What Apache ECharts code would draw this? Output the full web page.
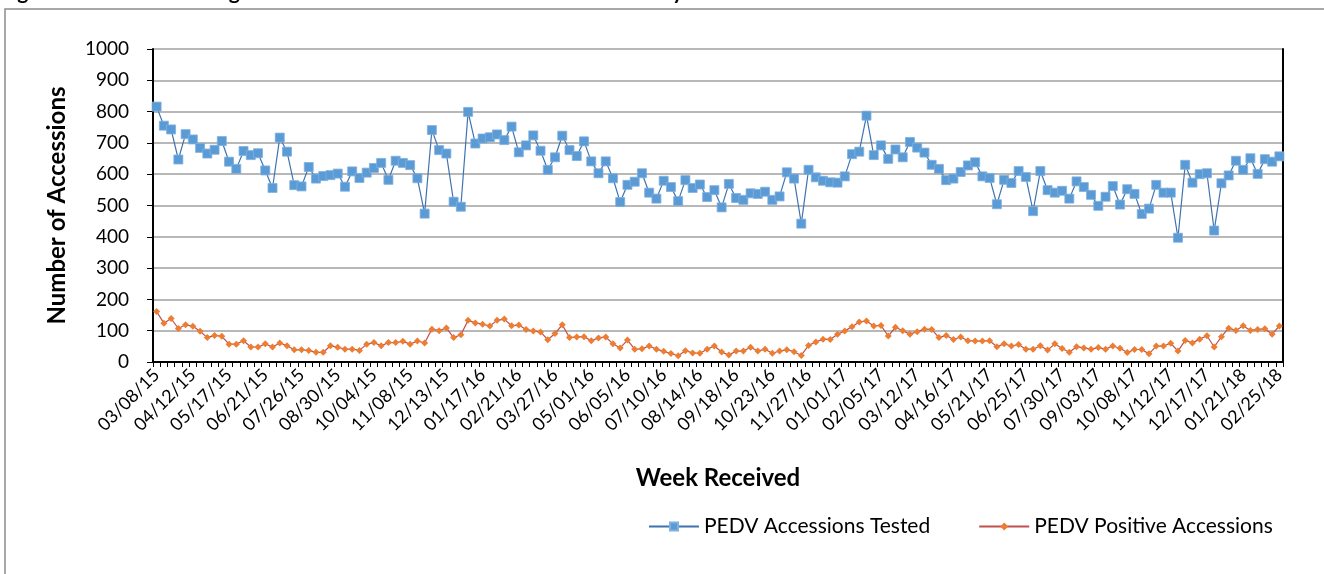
<!DOCTYPE html>
<html>
<head>
<meta charset="utf-8">
<script src="https://cdn.jsdelivr.net/npm/echarts@6/dist/echarts.min.js"></script>
<style>
html,body{margin:0;padding:0;background:#fff;}
#chart{width:1324px;height:574px;}
</style>
</head>
<body>
<div id="chart"></div>
<script>
// Weekly categories: first week received and number of weeks
const firstWeek = [2015, 3, 8];
const weekCount = 156;

const seriesNames = ['PEDV Accessions Tested', 'PEDV Positive Accessions'];

const accessionsTested = [
 816,755,743,647,728,711,684,666,678,706,
 640,617,674,661,667,612,556,717,672,565,
 561,623,586,594,597,602,560,609,588,605,
 620,636,582,643,636,629,587,474,741,677,
 666,512,496,799,698,714,718,727,709,752,
 670,692,724,675,614,654,723,677,658,705,
 641,603,641,587,511,566,576,603,541,522,
 579,559,514,581,556,567,527,549,494,569,
 524,518,539,537,544,518,529,606,586,442,
 614,590,579,574,573,593,664,672,787,661,
 692,649,679,654,703,685,669,630,617,581,
 586,607,628,638,593,588,504,582,572,610,
 591,482,610,549,541,547,522,577,559,534,
 499,528,562,503,552,537,473,490,566,541,
 541,397,630,573,600,603,420,571,596,643,
 614,651,601,648,640,657
];

const positiveAccessions = [
 161,124,139,107,119,114,98,78,85,82,
 57,57,68,48,48,58,48,61,52,39,
 39,37,31,31,52,47,41,41,37,57,
 62,52,62,62,66,57,67,61,105,100,
 109,78,87,133,125,121,115,133,137,116,
 118,104,99,96,71,91,119,78,80,81,
 68,77,80,58,45,70,41,42,51,41,
 34,27,20,36,29,28,41,51,32,22,
 35,35,47,35,41,28,35,39,33,21,
 53,64,73,72,89,99,113,128,131,115,
 117,83,111,100,89,97,105,104,78,85,
 72,80,68,67,67,68,49,58,51,56,
 41,41,52,38,58,43,31,49,45,41,
 46,41,51,44,30,40,40,26,51,51,
 60,35,69,61,73,84,48,81,108,101,
 116,101,104,106,89,115
];

const yTicks = [0,100,200,300,400,500,600,700,800,900,1000];

function pad(n){ return (n < 10 ? '0' : '') + n; }
const categories = [];
{
  const t0 = Date.UTC(firstWeek[0], firstWeek[1]-1, firstWeek[2]);
  for (let i = 0; i < weekCount; i++) {
    const d = new Date(t0 + i*7*86400000);
    categories.push(pad(d.getUTCMonth()+1) + '/' + pad(d.getUTCDate()) + '/' + String(d.getUTCFullYear()).slice(2));
  }
}

const FONT = 'Lato, "Open Sans", sans-serif';
const chart = echarts.init(document.getElementById('chart'), null, {renderer:'canvas'});
chart.setOption({
  animation: false,
  backgroundColor: '#fff',
  graphic: [
    {type:'rect', shape:{x:5, y:9, width:1340, height:600}, style:{fill:'none', stroke:'#8c8c8c', lineWidth:1.5}, silent:true, z:-1},
    {type:'text', left: 0, top: -18, style:{text:'Figure 3.      PEDV Virological Accessions Tested and Number Received by Week', font:'bold 21px ' + FONT, fill:'#000'}}
  ],
  grid: {left:153, right:41, top:49, bottom:212, containLabel:false, show:false},
  legend: {
    data: seriesNames,
    left: 643, top: 511,
    itemWidth: 50, itemHeight: 10, itemGap: 48,
    textStyle: {fontFamily: FONT, fontSize: 21, color:'#000'}
  },
  xAxis: {
    type:'category', data: categories, boundaryGap: true,
    name: 'Week Received', nameLocation:'middle', nameGap: 104,
    nameTextStyle: {fontFamily: FONT, fontSize: 24, fontWeight:'bold', color:'#000'},
    axisLine: {show:true, lineStyle:{color:'#000', width:2}},
    axisTick: {show:true, interval:0, length:5, lineStyle:{color:'#000', width:1}},
    axisLabel: {interval:4, rotate:45, margin:10, fontFamily: FONT, fontSize:18, color:'#000'},
    splitLine: {show:false}
  },
  yAxis: [{
    type:'value', min: yTicks[0], max: yTicks[yTicks.length-1], interval: yTicks[1]-yTicks[0],
    name: 'Number of Accessions', nameLocation:'middle', nameGap: 84,
    nameTextStyle: {fontFamily: FONT, fontSize: 24, fontWeight:'bold', color:'#000'},
    axisLine: {show:true, lineStyle:{color:'#000', width:2}},
    axisTick: {show:true, length:6, lineStyle:{color:'#000', width:1}},
    axisLabel: {margin:24, fontFamily: FONT, fontSize:19, color:'#000', formatter: v => String(v)},
    splitLine: {show:true, lineStyle:{color:'#a0a0a0', width:1.5}}
  }, {
    type:'value', position:'right', min: yTicks[0], max: yTicks[yTicks.length-1], interval: yTicks[1]-yTicks[0],
    axisLine: {show:true, lineStyle:{color:'#000', width:2}},
    axisTick: {show:false}, axisLabel: {show:false}, splitLine: {show:false}
  }],
  series: [
    {
      name: seriesNames[0], type:'line', data: accessionsTested,
      symbol:'rect', symbolSize:9, showAllSymbol:true,
      lineStyle:{color:'#3e73b0', width:1.2},
      itemStyle:{color:'#5b9bd5', borderColor:'#7fb0e0', borderWidth:0.8},
      emphasis:{disabled:true}
    },
    {
      name: seriesNames[1], type:'line', data: positiveAccessions,
      symbol:'diamond', symbolSize:7, showAllSymbol:true,
      lineStyle:{color:'#c0504d', width:1.2},
      itemStyle:{color:'#ed7d31'},
      emphasis:{disabled:true}
    }
  ]
});
</script>
</body>
</html>
